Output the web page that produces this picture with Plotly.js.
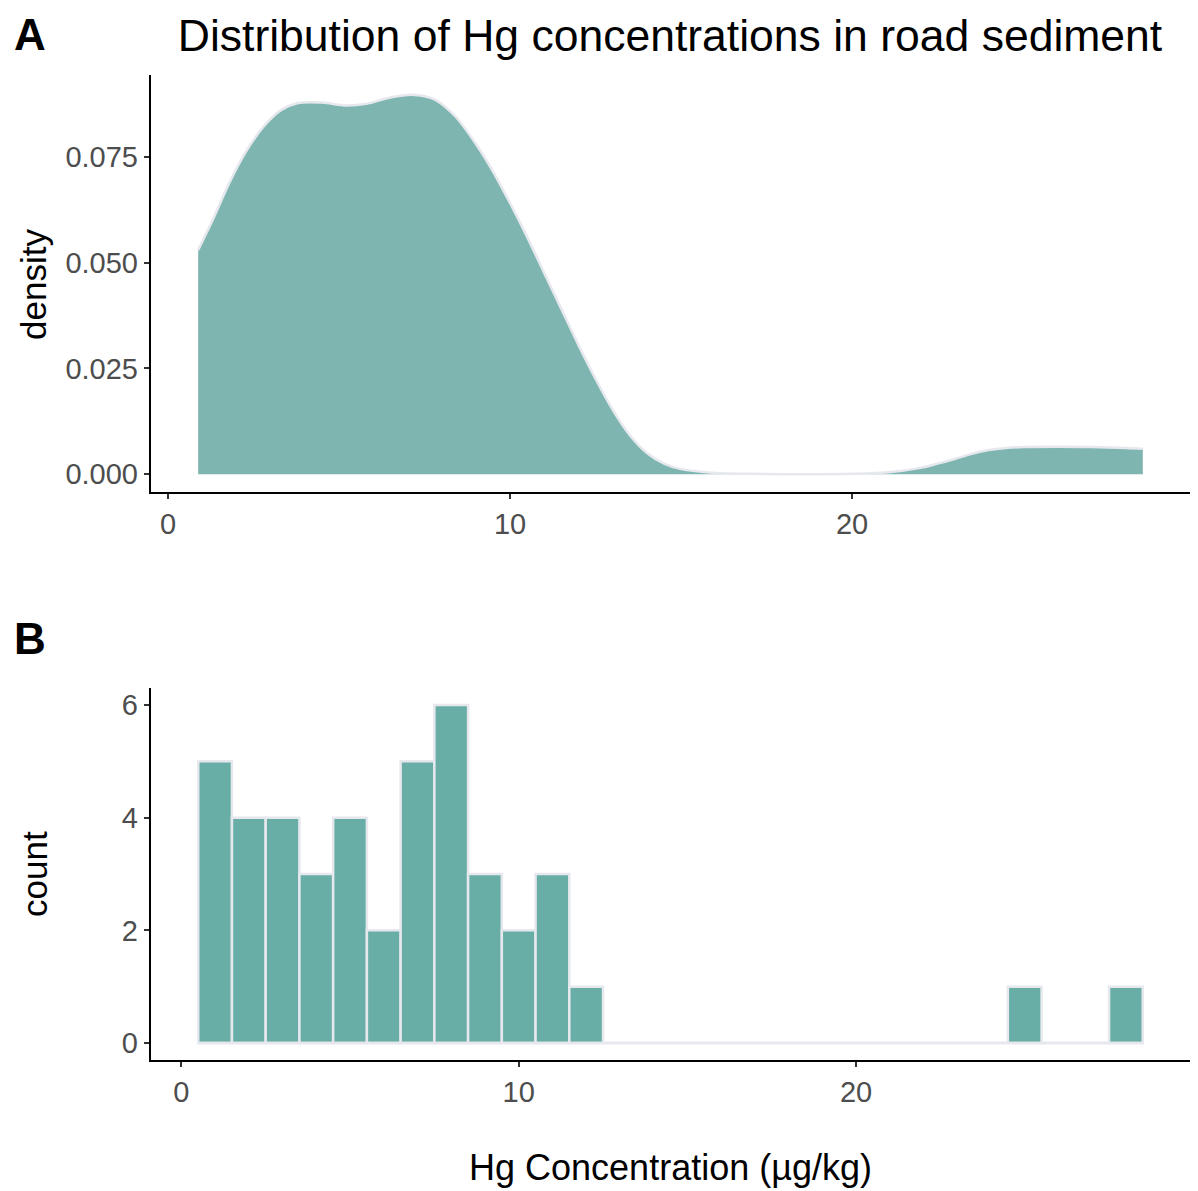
<!DOCTYPE html>
<html>
<head>
<meta charset="utf-8">
<script src="https://cdn.plot.ly/plotly-3.0.1.min.js"></script>
<style>html,body{margin:0;padding:0;background:#fff;}#chart{width:1198px;height:1191px;}</style>
</head>
<body>
<div id="chart"></div>
<script>
// Density curve of Hg concentrations (µg/kg)
const densityX = [0.88, 1.3, 1.8, 2.3, 2.8, 3.3, 3.8, 4.5, 5.2, 5.8, 6.5, 7.2, 7.8, 8.4, 9.0, 9.5, 10.0, 10.5, 11.0, 11.5, 12.0, 12.5, 13.0, 13.5, 14.0, 14.5, 15.0, 16.0, 17.0, 18.0, 19.0, 20.0, 21.0, 22.0, 22.5, 23.0, 23.5, 24.0, 24.5, 25.0, 26.0, 27.0, 28.0, 28.5];
const densityY = [0.0530, 0.0600, 0.0690, 0.0765, 0.0822, 0.0860, 0.0877, 0.0878, 0.0871, 0.0875, 0.0890, 0.0896, 0.0885, 0.0845, 0.0780, 0.0715, 0.0640, 0.0560, 0.0475, 0.0390, 0.0305, 0.0225, 0.0152, 0.0092, 0.0050, 0.0025, 0.0012, 0.0003, 0.0001, 0.0000, 0.0000, 0.0001, 0.0004, 0.0015, 0.0025, 0.0036, 0.0048, 0.0057, 0.0062, 0.0064, 0.0065, 0.0064, 0.0062, 0.0060];

// Histogram bins (width 1) and counts
const binCenters = [1,2,3,4,5,6,7,8,9,10,11,12,13,14,15,16,17,18,19,20,21,22,23,24,25,26,27,28];
const binCounts  = [5,4,4,3,4,2,5,6,3,2,3,1,0,0,0,0,0,0,0,0,0,0,0,0,1,0,0,1];
const binWidth = 1;

const titleText = "Distribution of Hg concentrations in road sediment";
const xTitle = "Hg Concentration (µg/kg)";
const yTitleTop = "density";
const yTitleBottom = "count";
const densityTicks = [0, 0.025, 0.05, 0.075];
const densityTickText = ["0.000", "0.025", "0.050", "0.075"];
const countTicks = [0, 2, 4, 6];
const xTicks = [0, 10, 20];

const FONT = "Liberation Sans, Arial, Helvetica, sans-serif";
const W = 1198, H = 1191;
const px = (a, b) => [a / W, b / W];
const py = (top, bottom) => [1 - bottom / H, 1 - top / H];

const binLo = binCenters[0] - binWidth / 2;
const binHi = binCenters[binCenters.length - 1] + binWidth / 2;

const traces = [
  {
    type: "scatter", mode: "lines",
    x: densityX, y: densityY,
    xaxis: "x", yaxis: "y",
    fill: "tozeroy",
    fillcolor: "#7eb5b0",
    line: {color: "#e6e8ee", width: 2.5, shape: "spline", smoothing: 0.8},
    hoverinfo: "x+y", showlegend: false
  },
  {
    type: "scatter", mode: "lines",
    x: [binLo, binHi], y: [0, 0],
    xaxis: "x2", yaxis: "y2",
    line: {color: "#e6e8ee", width: 2.5},
    hoverinfo: "skip", showlegend: false
  },
  {
    type: "bar",
    x: binCenters, y: binCounts,
    width: binCenters.map(() => binWidth),
    xaxis: "x2", yaxis: "y2",
    marker: {color: "#68aea7", line: {color: "#e6e8ee", width: 2.5}},
    showlegend: false
  }
];

const axisCommon = {
  showline: true, linecolor: "#000", linewidth: 2.2,
  showgrid: false, zeroline: false,
  ticks: "outside", ticklen: 5, tickwidth: 2, tickcolor: "#333",
  tickfont: {family: FONT, size: 29, color: "#4d4d4d"},
  fixedrange: true
};

const layout = {
  width: W, height: H,
  margin: {l: 0, r: 0, t: 0, b: 0},
  paper_bgcolor: "#fff", plot_bgcolor: "#fff",
  font: {family: FONT},
  showlegend: false,
  bargap: 0,
  title: {text: titleText, font: {family: FONT, size: 44.5, color: "#000"}, x: 670 / W, xanchor: "center", y: 1 - 35 / H, yanchor: "middle"},
  xaxis: Object.assign({}, axisCommon, {
    domain: px(151, 1190), anchor: "y",
    range: [-0.5, 29.88], tickvals: xTicks, ticktext: xTicks.map(String)
  }),
  yaxis: Object.assign({}, axisCommon, {
    domain: py(75, 492), anchor: "x",
    range: [-0.0042, 0.0943], tickvals: densityTicks, ticktext: densityTickText
  }),
  xaxis2: Object.assign({}, axisCommon, {
    domain: px(151, 1190), anchor: "y2",
    range: [-0.9, 29.9], tickvals: xTicks, ticktext: xTicks.map(String),
    title: {text: xTitle, font: {family: FONT, size: 36, color: "#000"}, standoff: 48}
  }),
  yaxis2: Object.assign({}, axisCommon, {
    domain: py(688, 1060), anchor: "x2",
    range: [-0.3, 6.3], tickvals: countTicks, ticktext: countTicks.map(String)
  }),
  annotations: [
    {text: "<b>A</b>", xref: "paper", yref: "paper", x: 12 / W, y: 1 - 35 / H, xanchor: "left", yanchor: "middle", showarrow: false, font: {family: FONT, size: 44, color: "#000"}},
    {text: "<b>B</b>", xref: "paper", yref: "paper", x: 12 / W, y: 1 - 638 / H, xanchor: "left", yanchor: "middle", showarrow: false, font: {family: FONT, size: 44, color: "#000"}},
    {text: yTitleTop, xref: "paper", yref: "paper", x: 34 / W, y: 1 - 285 / H, xanchor: "center", yanchor: "middle", textangle: -90, showarrow: false, font: {family: FONT, size: 35, color: "#000"}},
    {text: yTitleBottom, xref: "paper", yref: "paper", x: 34 / W, y: 1 - 874 / H, xanchor: "center", yanchor: "middle", textangle: -90, showarrow: false, font: {family: FONT, size: 35, color: "#000"}}
  ]
};

Plotly.newPlot("chart", traces, layout, {displayModeBar: false, staticPlot: true});
</script>
</body>
</html>
